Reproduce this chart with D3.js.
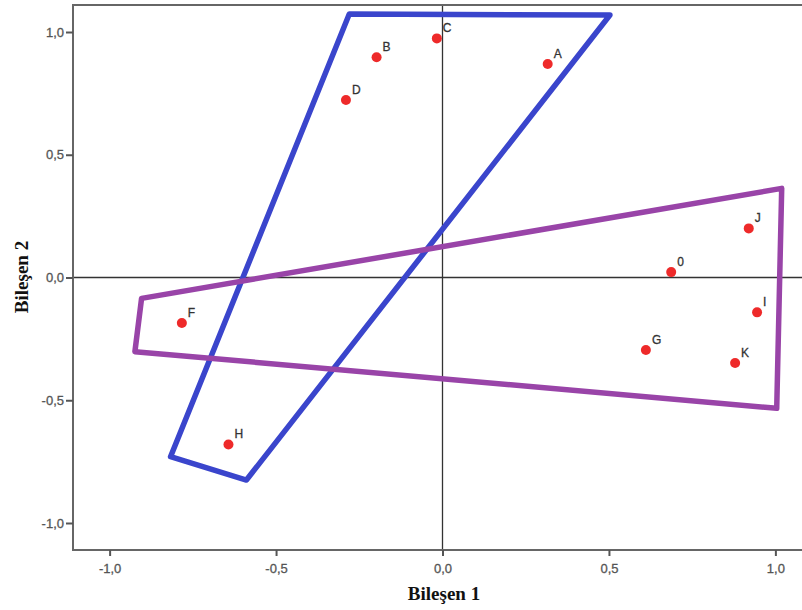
<!DOCTYPE html>
<html>
<head>
	<meta charset="UTF-8">
	<title>Bileşen grafiği</title>
	<script src="https://cdn.jsdelivr.net/npm/d3@7"></script>
	<style>
		body {
			padding: 0;
			margin: 0;
			background: #fff;
		}
	</style>
</head>
<body>
	<script>
		var w = 802,
			h = 610;

		// component loadings
		var labels = ["A", "B", "C", "D", "0", "F", "G", "H", "I", "J", "K"];
		var comp1 = [0.316, -0.198, -0.017, -0.290, 0.687, -0.783, 0.611, -0.643, 0.945, 0.920, 0.879];
		var comp2 = [0.870, 0.897, 0.974, 0.723, 0.022, -0.185, -0.295, -0.680, -0.142, 0.200, -0.348];

		// hand drawn groups
		var blueX = [-0.280, 0.503, -0.589, -0.817];
		var blueY = [1.073, 1.069, -0.825, -0.730];
		var purpleX = [1.019, 1.004, -0.924, -0.904];
		var purpleY = [0.363, -0.533, -0.302, -0.085];

		var ticks = [-1, -0.5, 0, 0.5, 1];

		var x = d3.scaleLinear().domain([-1.11, 1.11]).range([73, 812]);
		var y = d3.scaleLinear().domain([-1.11, 1.11]).range([550, 5]);
		var fmt = function(d) { return d3.format(".1f")(d).replace(".", ",").replace("\u2212", "-"); };

		var svg = d3.select("body").append("svg")
			.attr("width", w)
			.attr("height", h);

		svg.append("clipPath").attr("id", "plot")
			.append("rect")
			.attr("x", 73).attr("y", 5)
			.attr("width", 800).attr("height", 545);

		var plot = svg.append("g").attr("clip-path", "url(#plot)");

		// zero lines
		plot.append("line")
			.attr("x1", x(0)).attr("x2", x(0))
			.attr("y1", 5).attr("y2", 550)
			.attr("stroke", "#333").attr("stroke-width", 1.3);
		plot.append("line")
			.attr("x1", 73).attr("x2", 812)
			.attr("y1", y(0)).attr("y2", y(0))
			.attr("stroke", "#333").attr("stroke-width", 1.3);

		function drawShape(xs, ys, color) {
			var pts = xs.map(function(d, i) { return [x(d), y(ys[i])]; });
			plot.append("polygon")
				.attr("points", pts.map(function(p) { return p.join(","); }).join(" "))
				.attr("fill", "none")
				.attr("stroke", color)
				.attr("stroke-width", 5.5)
				.attr("stroke-linejoin", "round");
		}
		drawShape(blueX, blueY, "#3a45cc");
		drawShape(purpleX, purpleY, "#9944a8");

		// points
		plot.selectAll("circle")
			.data(labels)
			.enter().append("circle")
			.attr("cx", function(d, i) { return x(comp1[i]); })
			.attr("cy", function(d, i) { return y(comp2[i]); })
			.attr("r", 5)
			.attr("fill", "#ee2a2a");

		plot.selectAll("text.lbl")
			.data(labels)
			.enter().append("text")
			.attr("class", "lbl")
			.attr("x", function(d, i) { return x(comp1[i]) + 6; })
			.attr("y", function(d, i) { return y(comp2[i]) - 6; })
			.attr("font-family", "Liberation Sans, Arial, sans-serif")
			.attr("font-size", 12)
			.attr("fill", "#333")
			.attr("stroke", "#333")
			.attr("stroke-width", 0.3)
			.text(function(d) { return d; });

		// frame
		svg.append("rect")
			.attr("x", 73).attr("y", 5)
			.attr("width", 800).attr("height", 545)
			.attr("fill", "none")
			.attr("stroke", "#666")
			.attr("stroke-width", 2);

		var xAxis = svg.append("g")
			.attr("transform", "translate(0,550)")
			.call(d3.axisBottom(x).tickValues(ticks).tickFormat(fmt).tickSize(6).tickSizeOuter(0));
		var yAxis = svg.append("g")
			.attr("transform", "translate(73,0)")
			.call(d3.axisLeft(y).tickValues(ticks).tickFormat(fmt).tickSize(7).tickSizeOuter(0));

		[xAxis, yAxis].forEach(function(g) {
			g.select(".domain").remove();
			g.selectAll("line").attr("stroke", "#555").attr("stroke-width", 2);
			g.selectAll("text")
				.attr("font-family", "Liberation Sans, Arial, sans-serif")
				.attr("font-size", 13)
				.attr("fill", "#555")
				.attr("stroke", "#555")
				.attr("stroke-width", 0.3);
		});
		xAxis.selectAll("text").attr("dy", "1.1em");
		yAxis.selectAll("text").attr("x", -9);

		svg.append("text")
			.attr("x", 444).attr("y", 600)
			.attr("text-anchor", "middle")
			.attr("font-family", "Liberation Serif, Times New Roman, serif")
			.attr("font-weight", "bold")
			.attr("font-size", 19)
			.attr("fill", "#111")
			.text("Bileşen 1");

		svg.append("text")
			.attr("transform", "translate(28,277) rotate(-90)")
			.attr("text-anchor", "middle")
			.attr("font-family", "Liberation Serif, Times New Roman, serif")
			.attr("font-weight", "bold")
			.attr("font-size", 19)
			.attr("fill", "#111")
			.text("Bileşen 2");
	</script>
</body>
</html>
